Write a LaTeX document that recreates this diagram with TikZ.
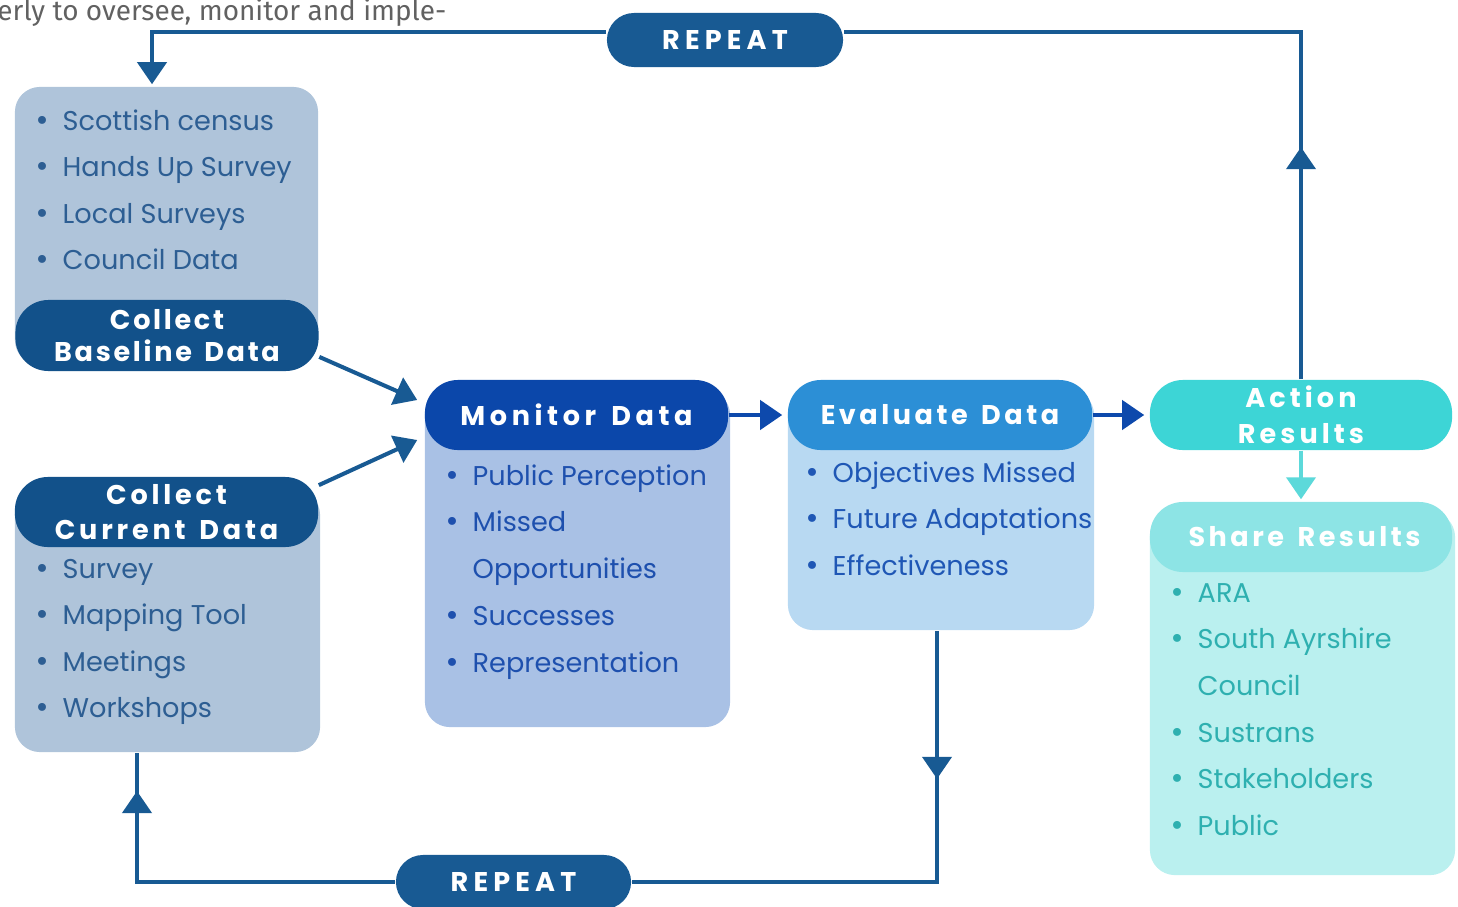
\documentclass[tikz,border=0pt]{standalone}
\usepackage{fontspec}
\setmainfont{Poppins}
\newfontfamily\headfont{Poppins}[LetterSpace=17,WordSpace=1.45]
\newfontfamily\topfont{Fira Sans}
\newfontfamily\bulfont{DejaVu Sans}
\usetikzlibrary{arrows.meta,calc,decorations.markings}
\definecolor{navy}{HTML}{185A93}
\definecolor{bpil}{HTML}{12518A}
\definecolor{bbox}{HTML}{AFC4DA}
\definecolor{btext}{HTML}{2D5E93}
\definecolor{mpil}{HTML}{0B47AA}
\definecolor{mbox}{HTML}{A9C1E5}
\definecolor{mtext}{HTML}{1E50AE}
\definecolor{epil}{HTML}{2C8FD6}
\definecolor{ebox}{HTML}{B8D9F2}
\definecolor{etext}{HTML}{1F57B5}
\definecolor{apil}{HTML}{3DD5D6}
\definecolor{spil}{HTML}{8DE4E5}
\definecolor{sbox}{HTML}{BAF0EF}
\definecolor{stext}{HTML}{2EB0B0}
\definecolor{sarrow}{HTML}{5CD9DA}
\definecolor{royal}{HTML}{0D49AC}
\tikzset{
  lbox/.style={rounded corners=0.25cm, inner sep=0pt, draw=none},
  pill/.style={rounded corners=0.33cm, inner sep=0pt, minimum height=0.70cm,
    minimum width=3.03cm, text=white, align=center,
    font=\headfont\bfseries\fontsize{7.7}{10}\selectfont},
  item/.style={anchor=base west, inner sep=0pt, font=\fontsize{7.72}{9}\selectfont},
  conn/.style={line width=1.15pt, draw=navy},
  tip/.style={-{Triangle[width=0.29cm,length=0.22cm]}},
  midtip/.style={postaction={decorate, decoration={markings,
    mark=at position #1 with {\arrow{Triangle[width=0.29cm,length=0.22cm]}}}}},
}
\newcommand\bul{\llap{{\bulfont\textbullet}\hspace{3.6pt}}}
\newcommand\ls[1]{\addfontfeature{LetterSpace=#1}}
\begin{document}
\begin{tikzpicture}[x=0.01cm,y=-0.01cm]
\useasboundingbox (0,0) rectangle (1458,906);

% top running text
\node[anchor=base east, inner sep=0pt, text=black!62, font=\topfont\fontsize{7.95}{9}\selectfont] (toptext) at (447,21) {erly to oversee, monitor and imple-};

% light boxes
\node[lbox, fill=bbox, minimum width=3.03cm, minimum height=2.78cm] (bbx) at (166.5,226) {};
\node[lbox, fill=bbox, minimum width=3.05cm, minimum height=2.62cm] (cbx) at (167.5,621) {};
\node[lbox, fill=mbox, minimum width=3.05cm, minimum height=3.37cm] (mbx) at (577.5,558.5) {};
\node[lbox, fill=ebox, minimum width=3.06cm, minimum height=2.40cm] (ebx) at (941,510) {};
\node[lbox, fill=sbox, minimum width=3.05cm, minimum height=3.63cm] (sbx) at (1302.5,693.5) {};

% pills
\node[pill, fill=bpil, minimum height=0.71cm, font=\headfont\bfseries\fontsize{7.7}{9.3}\selectfont\ls{10}] (bpill) at (167,335.5) {Collect\\Baseline Data};
\node[pill, fill=bpil, font=\headfont\bfseries\fontsize{7.7}{10}\selectfont\ls{14}] (cpill) at (166.5,512) {Collect\\Current Data};
\node[pill, fill=mpil] (mpill) at (576.5,415) {Monitor Data};
\node[pill, fill=epil, minimum width=3.04cm, font=\headfont\bfseries\fontsize{7.7}{10}\selectfont\ls{13}] (epill) at (940,415) {Evaluate Data};
\node[pill, fill=apil, minimum width=3.02cm, font=\headfont\bfseries\fontsize{7.7}{10.2}\selectfont\ls{15}] (apill) at (1301,415) {Action\\Results};
\node[pill, fill=spil, minimum width=3.02cm, font=\headfont\bfseries\fontsize{7.7}{10}\selectfont\ls{13}] (spill) at (1301,537) {\hspace{2pt}Share Results};
\node[pill, fill=navy, rounded corners=0.27cm, minimum width=2.36cm, minimum height=0.54cm, font=\headfont\bfseries\fontsize{7.7}{10}\selectfont\ls{19}] (rep1) at (725,40) {REPEAT};
\node[pill, fill=navy, rounded corners=0.27cm, minimum width=2.35cm, minimum height=0.54cm, font=\headfont\bfseries\fontsize{7.7}{10}\selectfont\ls{19}] (rep2) at (513.5,882) {REPEAT};

% lists
\foreach \t [count=\i] in {Scottish census,Hands Up Survey,Local Surveys,Council Data}
  \node[item, text=btext] (bl\i) at (62,{130+(\i-1)*46.5}) {\bul\t};
\foreach \t [count=\i] in {Survey,Mapping Tool,Meetings,Workshops}
  \node[item, text=btext] (cl\i) at (62,{578+(\i-1)*46.5}) {\bul\t};
\foreach \b/\t [count=\i] in {1/Public Perception,1/Missed,0/Opportunities,1/Successes,1/Representation}
  \node[item, text=mtext] (ml\i) at (472,{485+(\i-1)*46.8}) {\ifnum\b=1 \bul\fi\t};
\foreach \t [count=\i] in {Objectives Missed,Future Adaptations,Effectiveness}
  \node[item, text=etext] (el\i) at (832,{482+(\i-1)*46.8}) {\bul\t};
\foreach \b/\t [count=\i] in {1/ARA,1/South Ayrshire,0/Council,1/Sustrans,1/Stakeholders,1/Public}
  \node[item, text=stext] (sl\i) at (1197,{602+(\i-1)*46.7}) {\ifnum\b=1 \bul\fi\t};

% connectors
\draw[conn, tip] (bpill.-8) -- ($(mpill.west)+(-7,-15)$);
\draw[conn, tip] (cpill.10) -- ($(mpill.west)+(-7,25)$);
\draw[conn, draw=royal, tip] (mpill.east) -- ($(epill.west)+(-5,0)$);
\draw[conn, draw=royal, tip] (epill.east) -- ($(apill.west)+(-5,0)$);
\draw[conn, draw=sarrow, tip] (apill.south) -- ($(spill.north)+(0,-2)$);

\draw[conn, tip] ($(rep1.west)+(0,-8)$) -| ($(bbx.north)+(-14.5,-2)$);
\draw[conn, midtip=2.32cm] (apill.north) |- ($(rep1.east)+(0,-8)$);
\draw[conn, midtip=1.48cm] ($(ebx.south)+(-4,0)$) |- (rep2.east);
\draw[conn, midtip=3.49cm] (rep2.west) -| ($(cbx.south)+(-30.5,0)$);
\end{tikzpicture}
\end{document}
